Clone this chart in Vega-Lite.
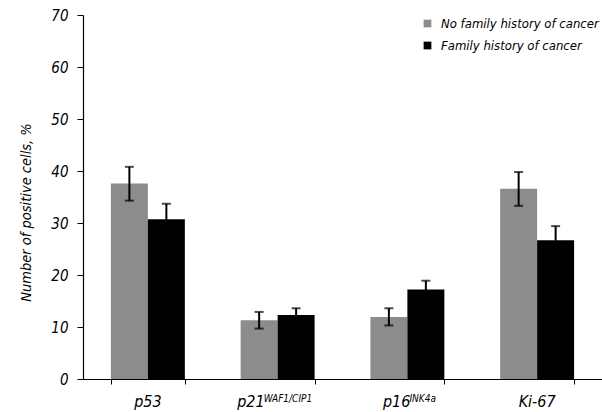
{
  "$schema": "https://vega.github.io/schema/vega-lite/v6.json",
  "width": 519,
  "height": 364,
  "autosize": "none",
  "padding": {"left": 83, "top": 15, "right": 0, "bottom": 33},
  "config": {
    "view": {"stroke": null},
    "font": "DejaVu Sans Condensed, Liberation Sans, sans-serif",
    "axis": {"labelColor": "black", "titleColor": "black", "domainColor": "black", "tickColor": "black", "grid": false}
  },
  "datasets": {
    "bars": [
      {"marker": "p53", "group": "No family history of cancer", "value": 37.6, "lo": 34.3, "hi": 40.8},
      {"marker": "p53", "group": "Family history of cancer", "value": 30.7, "lo": 27.7, "hi": 33.7},
      {"marker": "p21", "group": "No family history of cancer", "value": 11.3, "lo": 9.7, "hi": 12.9},
      {"marker": "p21", "group": "Family history of cancer", "value": 12.3, "lo": 11.0, "hi": 13.6},
      {"marker": "p16", "group": "No family history of cancer", "value": 11.9, "lo": 10.3, "hi": 13.6},
      {"marker": "p16", "group": "Family history of cancer", "value": 17.2, "lo": 15.5, "hi": 18.9},
      {"marker": "Ki-67", "group": "No family history of cancer", "value": 36.6, "lo": 33.3, "hi": 39.8},
      {"marker": "Ki-67", "group": "Family history of cancer", "value": 26.7, "lo": 24.0, "hi": 29.4}
    ],
    "labels": [
      {"marker": "p53", "main": "p53", "sup": ""},
      {"marker": "p21", "main": "p21", "sup": "WAF1/CIP1"},
      {"marker": "p16", "main": "p16", "sup": "INK4a"},
      {"marker": "Ki-67", "main": "Ki-67", "sup": ""}
    ]
  },
  "layer": [
    {
      "data": {"name": "bars"},
      "mark": {"type": "bar"},
      "encoding": {
        "x": {
          "field": "marker", "type": "nominal", "sort": ["p53", "p21", "p16", "Ki-67"],
          "scale": {"paddingInner": 0.43, "paddingOuter": 0.215},
          "axis": {"title": null, "labels": false, "tickBand": "extent", "tickSize": 5, "domainWidth": 1.2}
        },
        "xOffset": {"field": "group", "type": "nominal", "sort": ["No family history of cancer", "Family history of cancer"]},
        "y": {
          "field": "value", "type": "quantitative",
          "scale": {"domain": [0, 70], "nice": false},
          "axis": {
            "title": "Number of positive cells, %",
            "values": [0, 10, 20, 30, 40, 50, 60, 70],
            "tickSize": 6, "domainWidth": 1.2,
            "labelFontSize": 15, "labelFontStyle": "italic", "labelPadding": 9,
            "titleFontSize": 14.5, "titleFontStyle": "italic", "titleFontWeight": "normal",
            "titlePadding": 17, "titleY": 197
          }
        },
        "color": {
          "field": "group", "type": "nominal",
          "scale": {"domain": ["No family history of cancer", "Family history of cancer"], "range": ["#8c8c8f", "#000000"]},
          "legend": {
            "title": null, "orient": "none", "legendX": 338, "legendY": 2,
            "symbolType": "square", "symbolSize": 60, "symbolStrokeWidth": 0,
            "labelFontSize": 13, "labelFontStyle": "italic", "labelColor": "black",
            "labelOffset": 7, "rowPadding": 8, "labelLimit": 400
          }
        }
      }
    },
    {
      "data": {"name": "bars"},
      "mark": {"type": "rule", "strokeWidth": 2, "color": "black"},
      "encoding": {
        "x": {"field": "marker", "type": "nominal", "sort": ["p53", "p21", "p16", "Ki-67"]},
        "xOffset": {"field": "group", "type": "nominal", "sort": ["No family history of cancer", "Family history of cancer"]},
        "y": {"field": "lo", "type": "quantitative"},
        "y2": {"field": "hi"}
      }
    },
    {
      "data": {"name": "bars"},
      "mark": {"type": "tick", "orient": "horizontal", "size": 9, "thickness": 2, "color": "black"},
      "encoding": {
        "x": {"field": "marker", "type": "nominal", "sort": ["p53", "p21", "p16", "Ki-67"]},
        "xOffset": {"field": "group", "type": "nominal", "sort": ["No family history of cancer", "Family history of cancer"]},
        "y": {"field": "hi", "type": "quantitative"}
      }
    },
    {
      "data": {"name": "bars"},
      "mark": {"type": "tick", "orient": "horizontal", "size": 9, "thickness": 2, "color": "black"},
      "encoding": {
        "x": {"field": "marker", "type": "nominal", "sort": ["p53", "p21", "p16", "Ki-67"]},
        "xOffset": {"field": "group", "type": "nominal", "sort": ["No family history of cancer", "Family history of cancer"]},
        "y": {"field": "lo", "type": "quantitative"}
      }
    },
    {
      "data": {"name": "labels"},
      "transform": [{"filter": "datum.sup == ''"}],
      "mark": {"type": "text", "align": "center", "baseline": "alphabetic", "dy": 28, "fontSize": 16, "fontStyle": "italic", "color": "black"},
      "encoding": {
        "x": {"field": "marker", "type": "nominal", "sort": ["p53", "p21", "p16", "Ki-67"]},
        "y": {"datum": 0},
        "text": {"field": "main"}
      }
    },
    {
      "data": {"name": "labels"},
      "transform": [{"filter": "datum.marker == 'p21'"}],
      "mark": {"type": "text", "align": "right", "baseline": "alphabetic", "dx": -13, "dy": 28, "fontSize": 16, "fontStyle": "italic", "color": "black"},
      "encoding": {
        "x": {"field": "marker", "type": "nominal", "sort": ["p53", "p21", "p16", "Ki-67"]},
        "y": {"datum": 0},
        "text": {"field": "main"}
      }
    },
    {
      "data": {"name": "labels"},
      "transform": [{"filter": "datum.marker == 'p21'"}],
      "mark": {"type": "text", "align": "left", "baseline": "alphabetic", "dx": -14, "dy": 23, "fontSize": 10, "fontStyle": "italic", "color": "black"},
      "encoding": {
        "x": {"field": "marker", "type": "nominal", "sort": ["p53", "p21", "p16", "Ki-67"]},
        "y": {"datum": 0},
        "text": {"field": "sup"}
      }
    },
    {
      "data": {"name": "labels"},
      "transform": [{"filter": "datum.marker == 'p16'"}],
      "mark": {"type": "text", "align": "right", "baseline": "alphabetic", "dx": 3, "dy": 28, "fontSize": 16, "fontStyle": "italic", "color": "black"},
      "encoding": {
        "x": {"field": "marker", "type": "nominal", "sort": ["p53", "p21", "p16", "Ki-67"]},
        "y": {"datum": 0},
        "text": {"field": "main"}
      }
    },
    {
      "data": {"name": "labels"},
      "transform": [{"filter": "datum.marker == 'p16'"}],
      "mark": {"type": "text", "align": "left", "baseline": "alphabetic", "dx": 2, "dy": 23, "fontSize": 10, "fontStyle": "italic", "color": "black"},
      "encoding": {
        "x": {"field": "marker", "type": "nominal", "sort": ["p53", "p21", "p16", "Ki-67"]},
        "y": {"datum": 0},
        "text": {"field": "sup"}
      }
    }
  ]
}
